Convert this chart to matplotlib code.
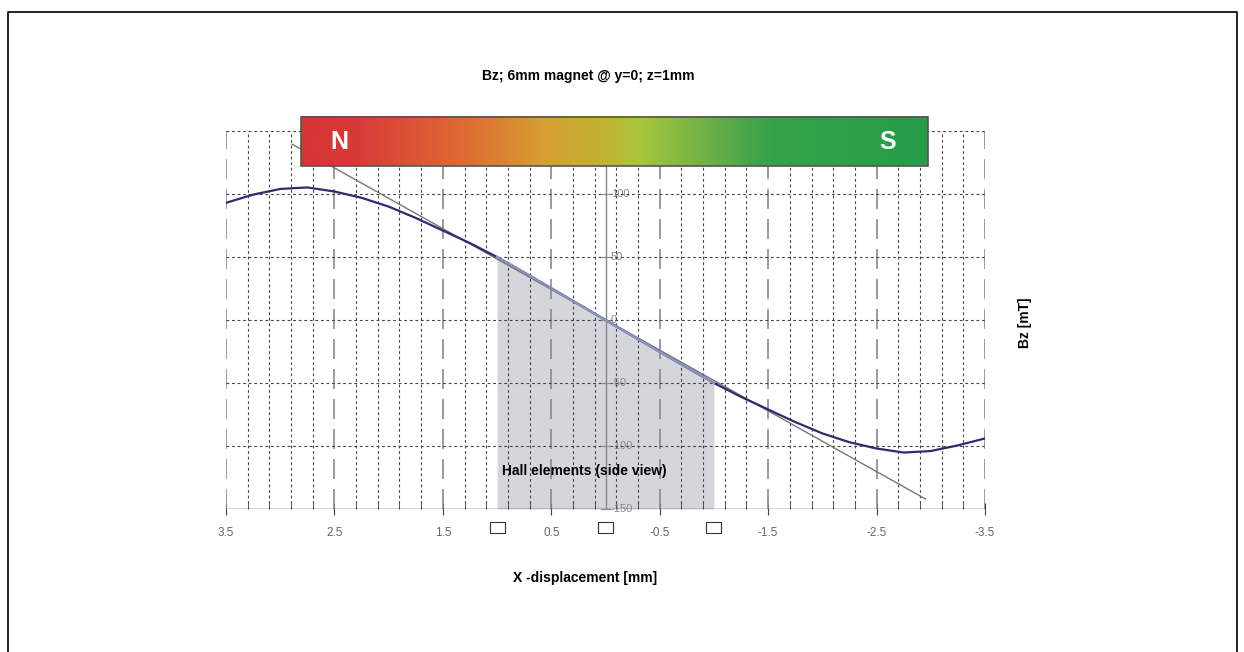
import numpy as np
import matplotlib
matplotlib.use("Agg")
import matplotlib.pyplot as plt
from matplotlib.colors import LinearSegmentedColormap
from matplotlib.patches import Rectangle
from matplotlib.lines import Line2D

plt.rcParams["font.family"] = ["Liberation Sans", "DejaVu Sans"]
NARROW = ["Liberation Sans Narrow", "Liberation Sans", "DejaVu Sans"]

# field curve (x in mm, Bz in mT)
x_mm = [3.5, 3.25, 3.0, 2.75, 2.5, 2.25, 2.0, 1.75, 1.5, 1.25, 1.0, 0.75, 0.5, 0.25, 0.0,
        -0.25, -0.5, -0.75, -1.0, -1.25, -1.5, -1.75, -2.0, -2.25, -2.5, -2.75, -3.0, -3.25, -3.5]
bz_mt = [93.0, 99.5, 104.0, 105.2, 102.0, 97.0, 90.0, 81.0, 71.0, 61.0, 50.0, 37.7, 25.2, 12.6, 0.0,
         -12.6, -25.2, -37.7, -50.0, -61.0, -71.0, -81.0, -90.0, -97.0, -102.0, -105.2, -104.0, -99.5, -94.0]

# linear approximation line
tangent_x = [2.89, -2.95]
tangent_bz = [139.5, -142.0]

# hall element positions and shaded range
hall_x = [1.0, 0.0, -1.0]
shade_range = (1.0, -1.0)

x_ticks = [3.5, 2.5, 1.5, 0.5, -0.5, -1.5, -2.5, -3.5]
y_ticks = [100, 50, 0, -50, -100, -150]

magnet_span = (2.81, -2.97)
magnet_bz = (122, 161)
magnet_colors = [(0.0, "#d63535"), (0.08, "#d63a37"), (0.27, "#df6e32"), (0.39, "#d6a032"),
                 (0.48, "#c2b232"), (0.54, "#a9c63c"), (0.61, "#82b944"), (0.69, "#58a948"),
                 (0.75, "#34a24a"), (1.0, "#269e48")]

fig = plt.figure(figsize=(12.44, 6.52), dpi=100)
ax = fig.add_axes([226 / 1244, 1 - 509 / 652, 759 / 1244, 378 / 652])
ax.set_xlim(3.5, -3.5)
ax.set_ylim(-150, 150)
for s in ax.spines.values():
    s.set_visible(False)

# grid: dotted minor every 0.2 mm, long dashes every 1 mm
for gx in np.arange(3.5, -3.51, -0.2):
    gx = round(gx, 2)
    if any(abs(gx - t) < 1e-6 for t in x_ticks):
        ax.axvline(gx, color="#8a8a8a", lw=1.2, ls=(0, (12, 6)), zorder=3)
    else:
        ax.axvline(gx, color="#444444", lw=0.8, ls=(0, (2.5, 2.5)), zorder=3)
for gy in [150, 100, 50, 0, -50, -100]:
    ax.axhline(gy, color="#444444", lw=0.8, ls=(0, (2.5, 2.5)), zorder=3)
ax.axhline(-150, color="#333333", lw=1.0, zorder=4)
ax.axvline(0, color="#888888", lw=1.0, zorder=4)

# shaded hall-element area
xa = np.array(x_mm)
ba = np.array(bz_mt)
m = (xa <= shade_range[0]) & (xa >= shade_range[1])
ax.fill_between(xa[m], ba[m], -150, color="#d5d6dc", lw=0, zorder=1)

ax.plot(tangent_x, tangent_bz, color="#777777", lw=1.0, zorder=5)
ax.plot(xa, ba, color="#2e2b70", lw=1.6, zorder=6)
ax.plot(xa[m], ba[m], color="#8a92bc", lw=1.8, zorder=7)

# x ticks
ax.set_xticks(x_ticks)
ax.set_xticklabels([f"{t:g}" for t in x_ticks], color="#666666", fontsize=8.5)
ax.set_xticks(np.arange(3.5, -3.51, -0.2), minor=True)
ax.tick_params(axis="x", which="major", direction="inout", length=8, color="#444444", pad=9)
ax.tick_params(axis="x", which="minor", direction="in", length=4, color="#444444")
ax.set_yticks([])

# y ticks on the centre axis
for t in y_ticks:
    ax.plot([0.04, -0.04], [t, t], color="#888888", lw=0.8, zorder=4, clip_on=False)
    ax.text(-0.05, t, f"{t:g}", color="#888888", fontsize=8, ha="left", va="center", zorder=2)

# hall element squares
for hx in hall_x:
    ax.add_patch(Rectangle((hx + 0.069, -169.3), -0.138, 8.7, fill=False, ec="#333333",
                           lw=0.8, clip_on=False, transform=ax.transData))
ax.text(0.2, -120, "Hall elements (side view)", fontsize=10, fontweight="bold",
        family=NARROW, ha="center", va="center", zorder=8)

# magnet bar
cmap = LinearSegmentedColormap.from_list("mag", magnet_colors)
grad = np.linspace(0, 1, 512).reshape(1, -1)
ax.imshow(grad, cmap=cmap, aspect="auto", extent=[magnet_span[0], magnet_span[1], magnet_bz[0], magnet_bz[1]],
          zorder=9, clip_on=False)
ax.add_patch(Rectangle((magnet_span[0], magnet_bz[0]), magnet_span[1] - magnet_span[0],
                       magnet_bz[1] - magnet_bz[0], fill=False, ec="#555555", lw=1.2, zorder=10, clip_on=False))
ax.set_xlim(3.5, -3.5)
ax.set_ylim(-150, 150)
ax.text(2.45, 141.0, "N", color="white", fontsize=18, fontweight="bold", ha="center", va="center", zorder=11)
ax.text(-2.6, 141.0, "S", color="white", fontsize=18, fontweight="bold", ha="center", va="center", zorder=11)

fig.text(588 / 1244, 1 - 76 / 652, "Bz; 6mm magnet @ y=0; z=1mm", fontsize=10, fontweight="bold",
         family=NARROW, ha="center", va="center")
fig.text(585 / 1244, 1 - 578 / 652, "X -displacement [mm]", fontsize=10, fontweight="bold",
         family=NARROW, ha="center", va="center")
fig.text(1025 / 1244, 1 - 323 / 652, "Bz [mT]", fontsize=10, fontweight="bold", family=NARROW,
         rotation=90, ha="center", va="center")

# outer frame (left, top, right)
fig.add_artist(Line2D([8 / 1244, 8 / 1244, 1237 / 1244, 1237 / 1244], [0, 1 - 12 / 652, 1 - 12 / 652, 0],
                      color="black", lw=1.2, transform=fig.transFigure))

fig.savefig("out.png", dpi=100)
